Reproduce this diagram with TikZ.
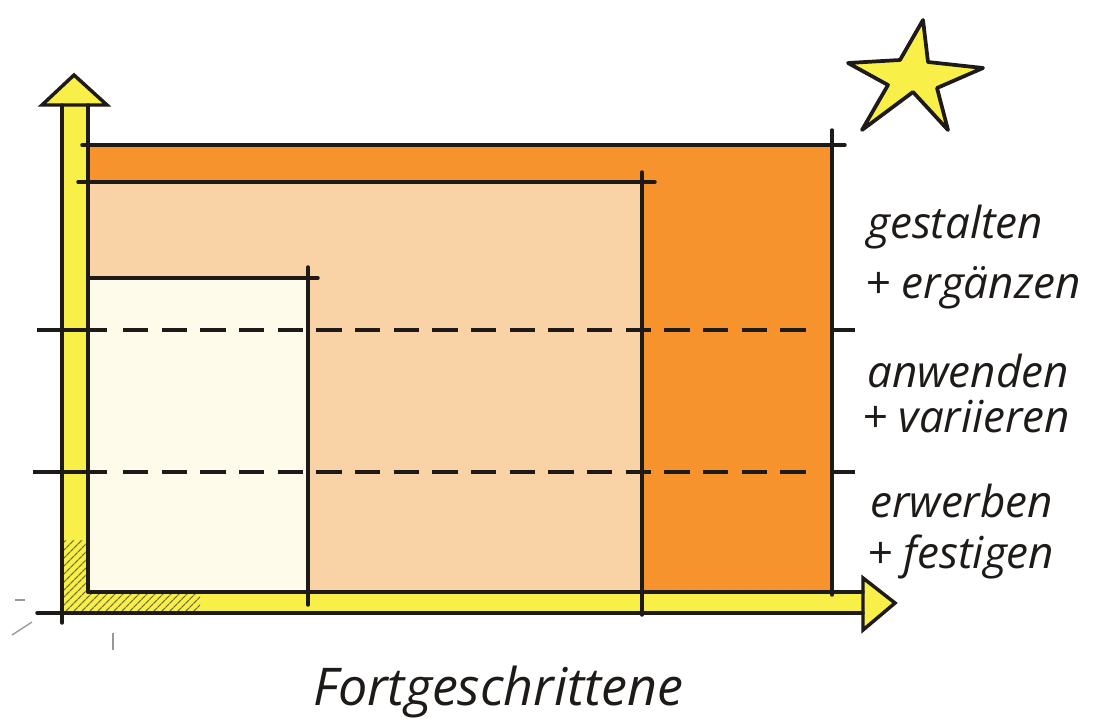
\documentclass[tikz,border=0pt]{standalone}
\usepackage{fontspec}
\usepackage{tikz}
\usetikzlibrary{patterns.meta}
\newfontfamily\handfont{Open Sans}
\definecolor{ink}{HTML}{1E1A18}
\definecolor{axisyellow}{HTML}{F8EF48}
\definecolor{deeporange}{HTML}{F6932C}
\definecolor{peach}{HTML}{F9D3A6}
\definecolor{cream}{HTML}{FFFBEA}
\definecolor{hatch}{HTML}{6E6A2A}
\tikzset{
  outline/.style={draw=ink,line width=2.6pt,line cap=round},
  levelline/.style={draw=ink,line width=3.6pt,dash pattern=on 19pt off 10pt},
  leveltick/.style={draw=ink,line width=3.6pt},
  hand/.style={font=\handfont\itshape\fontsize{33}{36}\selectfont,text=ink,anchor=base west,inner sep=0pt},
  bighand/.style={hand,font=\handfont\itshape\fontsize{39}{42}\selectfont},
  stray/.style={draw=ink!45,line width=1pt},
}

\begin{document}
\begin{tikzpicture}[x=0.75pt,y=-0.75pt]
  \useasboundingbox[fill=white] (0,0) rectangle (1117,722);

  % three stages
  \fill[deeporange] (88,145) rectangle (832,592);
  \fill[peach] (88,182) rectangle (642,592);
  \fill[cream] (88,278) rectangle (308,592);

  % axes
  \fill[axisyellow] (62,105) rectangle (88,613);
  \fill[axisyellow] (42,105) -- (74,75) -- (107,105) -- cycle;
  \fill[axisyellow] (62,592) rectangle (863,613);
  \fill[axisyellow] (863,578) -- (895,603) -- (863,630) -- cycle;
  \fill[pattern={Lines[angle=45,distance=4pt,line width=1pt]},pattern color=hatch]
    (62,540) -- (88,540) -- (88,592) -- (200,592) -- (200,613) -- (62,613) -- cycle;

  \draw[outline] (62,105) -- (62,623);
  \draw[outline] (88,105) -- (88,592);
  \draw[outline] (42,105) -- (74,75) -- (107,105) -- cycle;
  \draw[outline] (37,613) -- (863,613);
  \draw[outline] (88,592) -- (863,592);
  \draw[outline] (863,578) -- (895,603) -- (863,630) -- cycle;

  \draw[outline] (82,145) -- (845,145);
  \draw[outline] (832,130) -- (832,595);
  \draw[outline] (78,182) -- (655,182);
  \draw[outline] (642,172) -- (642,615);
  \draw[outline] (88,278) -- (318,278);
  \draw[outline] (308,267) -- (308,605);

  % level borders
  \foreach \yy/\xa in {330/37,472/33} {
    \draw[leveltick] (\xa,\yy) -- (107,\yy);
    \draw[levelline] (123,\yy) -- (815,\yy);
    \draw[leveltick] (830,\yy) -- (855,\yy);
  }

  % star
  \draw[ink,line width=2.8pt,line join=round,fill=axisyellow]
    (923,20) -- (928,62) -- (983,68) -- (937,88) -- (948,130) -- (913,92)
    -- (862,130) -- (888,85) -- (848,63) -- (900,60) -- cycle;

  \draw[stray] (12,635) -- (32,622);
  \draw[stray] (15,600) -- (25,600);
  \draw[stray] (113,633) -- (113,650);

  \node[hand] (gestalten) at (867,238) {gestalten};
  \node[hand] (ergaenzen) at (865,298) {+ ergänzen};
  \node[hand] (anwenden) at (867,387) {anwenden};
  \node[hand] (variieren) at (862,432) {+ variieren};
  \node[hand] (erwerben) at (870,517) {erwerben};
  \node[hand] (festigen) at (867,568) {+ festigen};
  \node[bighand] (fortgeschrittene) at (313,705) {Fortgeschrittene};
\end{tikzpicture}
\end{document}
